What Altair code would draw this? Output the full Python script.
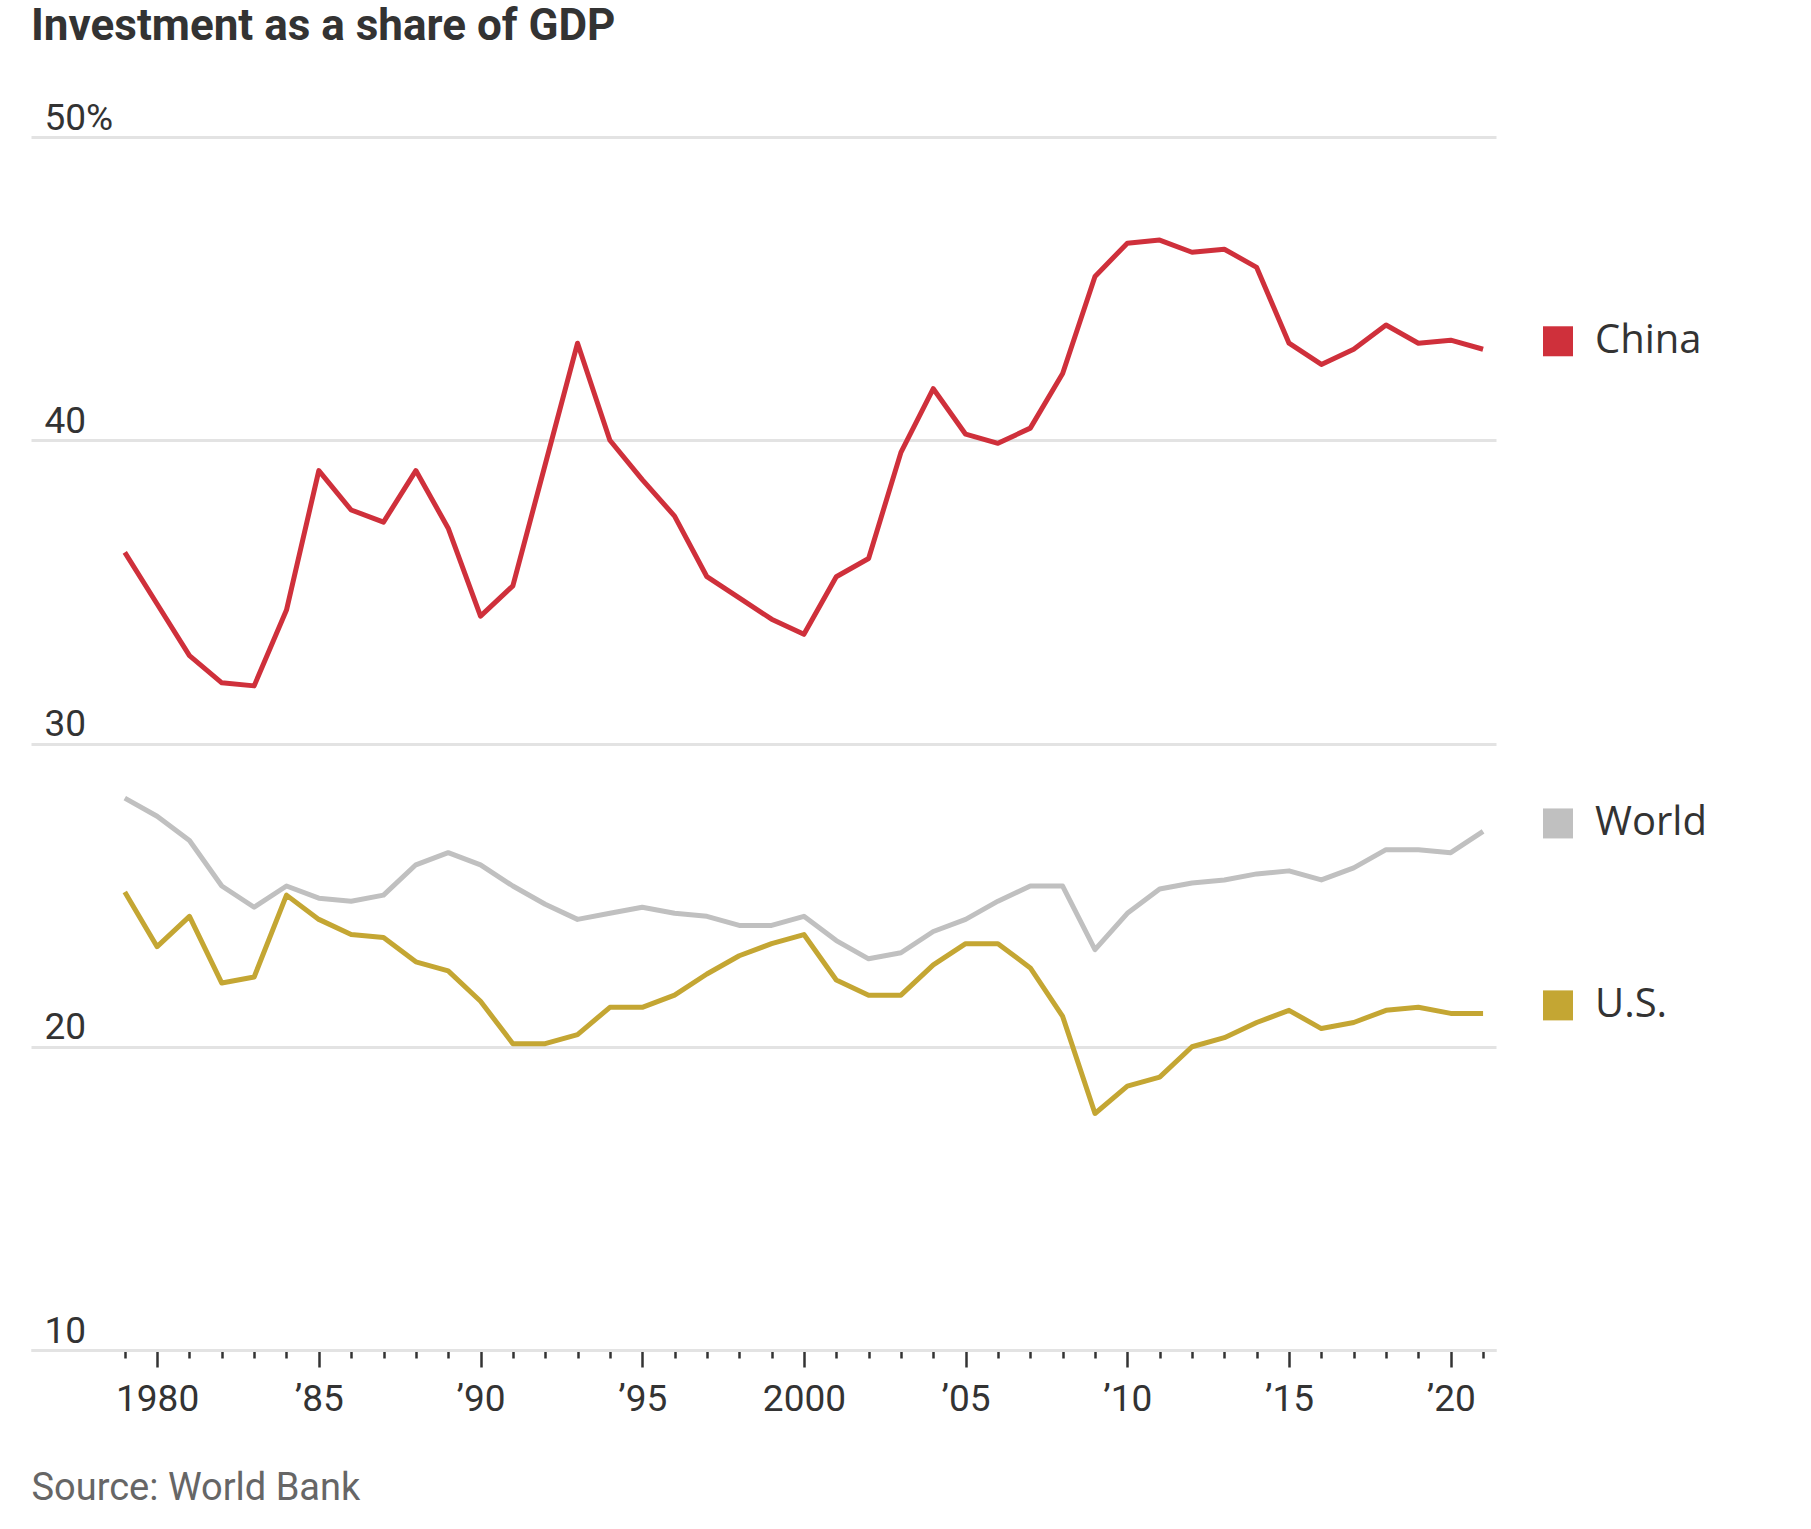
import altair as alt
import pandas as pd

years = list(range(1979, 2022))
china = [36.3, 34.6, 32.9, 32.0, 31.9, 34.4, 39.0, 37.7, 37.3, 39.0, 37.1, 34.2, 35.2, 39.2,
         43.2, 40.0, 38.7, 37.5, 35.5, 34.8, 34.1, 33.6, 35.5, 36.1, 39.6, 41.7, 40.2, 39.9,
         40.4, 42.2, 45.4, 46.5, 46.6, 46.2, 46.3, 45.7, 43.2, 42.5, 43.0, 43.8, 43.2, 43.3, 43.0]
world = [28.2, 27.6, 26.8, 25.3, 24.6, 25.3, 24.9, 24.8, 25.0, 26.0, 26.4, 26.0, 25.3, 24.7,
         24.2, 24.4, 24.6, 24.4, 24.3, 24.0, 24.0, 24.3, 23.5, 22.9, 23.1, 23.8, 24.2, 24.8,
         25.3, 25.3, 23.2, 24.4, 25.2, 25.4, 25.5, 25.7, 25.8, 25.5, 25.9, 26.5, 26.5, 26.4, 27.1]
us = [25.1, 23.3, 24.3, 22.1, 22.3, 25.0, 24.2, 23.7, 23.6, 22.8, 22.5, 21.5, 20.1, 20.1,
      20.4, 21.3, 21.3, 21.7, 22.4, 23.0, 23.4, 23.7, 22.2, 21.7, 21.7, 22.7, 23.4, 23.4,
      22.6, 21.0, 17.8, 18.7, 19.0, 20.0, 20.3, 20.8, 21.2, 20.6, 20.8, 21.2, 21.3, 21.1, 21.1]
series_names = ["China", "World", "U.S."]
series_colors = ["#cf303b", "#c0c0c0", "#c4a633"]
y_ticks = [10, 20, 30, 40, 50]

rows = []
for name, vals in zip(series_names, [china, world, us]):
    for yr, v in zip(years, vals):
        rows.append({"year": yr, "value": v, "series": name})
df = pd.DataFrame(rows)
legend_df = pd.DataFrame({"series": series_names,
                          "value": [china[-1], world[-1], us[-1]]})

NARROW = "'Liberation Sans Narrow', 'Roboto', 'Liberation Sans', sans-serif"

color = alt.Color("series:N", scale=alt.Scale(domain=series_names, range=series_colors), legend=None)
xscale = alt.Scale(domain=[1976.1, 2021.4], nice=False, zero=False)
yscale = alt.Scale(domain=[10, 50], nice=False, zero=False)

x_axis = alt.Axis(
    values=years,
    labelExpr="datum.value % 5 != 0 ? '' : ((datum.value == 1980 || datum.value == 2000) ? toString(datum.value) : '\u2019' + slice(toString(datum.value), 2))",
    grid=False, domain=True, domainColor="#e3e3e3", domainWidth=3,
    ticks=True, tickColor="#333333", tickWidth=2.5,
    tickSize={"condition": {"test": "datum.value % 5 == 0", "value": 17}, "value": 8},
    labelFont=NARROW, labelFontSize=37, labelColor="#333333", labelPadding=14,
    labelOverlap=False, labelFlush=False, labelBaseline="top",
    title="Source: World Bank", titleX=0, titleY=149, titleAlign="left",
    titleBaseline="alphabetic", titleFont=NARROW, titleFontSize=38,
    titleFontWeight="normal", titleColor="#666666",
)
y_axis = alt.Axis(
    values=y_ticks,
    labelExpr="datum.value == 50 ? '50%' : toString(datum.value)",
    grid=True, gridColor="#e3e3e3", gridWidth=3,
    domain=False, ticks=False, tickSize=0,
    labelAlign="left", labelBaseline="alphabetic", labelPadding=-13, labelOffset=-8,
    labelFont=NARROW, labelFontSize=37, labelColor="#333333",
    labelOverlap=False, labelFlush=False, title=None,
)

lines = alt.Chart(df).mark_line(strokeWidth=5, strokeJoin="round").encode(
    x=alt.X("year:Q", scale=xscale, axis=x_axis),
    y=alt.Y("value:Q", scale=yscale, axis=y_axis),
    color=color,
    detail="series:N",
)

leg_sq = alt.Chart(legend_df).mark_square(size=900, opacity=1, filled=True, yOffset=-8).encode(
    x=alt.value(1527),
    y=alt.Y("value:Q"),
    color=color,
)
leg_txt = alt.Chart(legend_df).mark_text(
    align="left", baseline="middle", dy=-8, fontSize=40, font="Open Sans", color="#333333"
).encode(
    x=alt.value(1564),
    y=alt.Y("value:Q"),
    text="series:N",
)

chart = alt.layer(lines, leg_sq, leg_txt).properties(
    width=1465, height=1213,
    autosize="none",
    padding={"left": 31, "top": 137, "right": 315, "bottom": 179},
    title=alt.TitleParams(
        "Investment as a share of GDP", anchor="start", frame="group",
        font=NARROW, fontSize=44, fontWeight="bold", color="#333333",
        baseline="alphabetic", offset=15,
    ),
).configure(background="white").configure_view(stroke=None)

chart.save("out.html", embed_options={"renderer": "svg", "actions": False})
